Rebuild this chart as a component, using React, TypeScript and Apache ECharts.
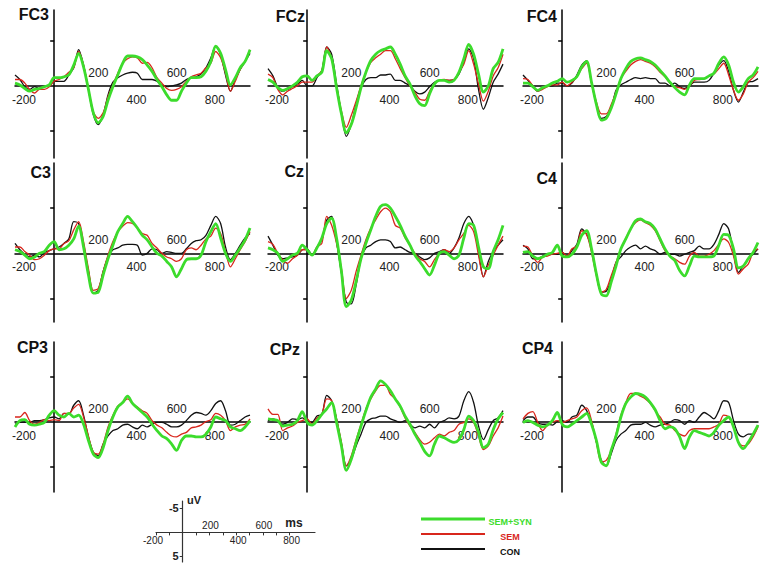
import React, { useEffect, useRef } from "react";
import * as echarts from "echarts";

// Sample times (ms)
const TIMES = [-200,-175,-150,-125,-100,-75,-50,-25,0,25,50,75,100,125,150,175,200,225,250,275,300,325,350,375,400,425,450,475,500,525,550,575,600,625,650,675,700,725,750,775,800,825,850,875,900,925,950,975,1000];

const PANELS = ["FC3", "FCz", "FC4", "C3", "Cz", "C4", "CP3", "CPz", "CP4"];
const SERIES_NAMES = ["SEM+SYN", "SEM", "CON"];

// Amplitudes (uV), negative plotted upward
const FC3_SEMSYN = [-0.3,-0.1,0.3,0.6,0.4,0.3,0.1,-0.1,-0.9,-0.9,-1.0,-1.2,-2.3,-3.6,-2.1,0.4,3.0,4.1,3.4,1.6,0.1,-1.2,-2.5,-3.3,-3.3,-3.2,-2.9,-2.3,-1.6,-0.7,0.1,1.0,1.6,1.6,0.6,-0.3,-0.9,-0.9,-1.0,-1.6,-2.7,-4.4,-3.6,-1.8,-0.1,-0.9,-2.0,-2.7,-4.0];
const FC3_SEM = [-0.7,-0.7,-0.3,0.4,0.8,0.4,0.4,0.1,-0.5,-0.7,-1.0,-1.5,-2.0,-3.8,-2.3,0.3,2.9,3.6,3.0,1.2,-0.1,-1.4,-2.5,-3.0,-3.2,-3.1,-2.5,-2.6,-2.0,-0.9,-0.3,0.3,0.5,0.4,0.1,-0.5,-1.0,-1.2,-1.4,-2.0,-2.5,-3.8,-3.1,-1.4,0.6,-0.5,-1.8,-2.7,-4.0];
const FC3_CON = [-1.2,-0.7,0.1,0.4,0.1,0.3,0.1,0,-0.5,-0.5,-0.5,-1.2,-2.0,-4.0,-2.3,0.4,3.2,4.3,3.2,1.0,-0.4,-0.9,-1.2,-1.4,-1.5,-1.4,-0.7,-0.7,-0.7,-0.5,-0.1,0.1,0,-0.1,-0.3,-0.7,-0.9,-1.0,-1.3,-2.0,-3.1,-4.4,-3.4,-1.2,0.6,-0.7,-1.8,-2.7,-3.6];

const FCZ_SEMSYN = [-0.7,-0.4,0.2,0.5,0.3,0,-0.4,-1.0,-1.1,-0.6,-1.1,-1.5,-3.9,-3.0,0.2,3.1,5.2,4.3,2.4,0.2,-1.5,-2.8,-3.5,-3.9,-4.1,-4.3,-3.5,-2.4,-1.1,-0.2,1.1,2.0,2.2,0.9,-0.2,-0.6,-0.6,-0.4,-0.6,-1.5,-3.0,-4.6,-3.5,-1.3,0.7,0,-1.9,-2.6,-4.1];
const FCZ_SEM = [-1.3,-0.9,0.4,1.0,0.6,0.3,0,-0.4,-0.4,-0.4,-1.1,-1.7,-4.3,-3.0,0,2.8,4.6,3.3,1.7,0,-1.5,-2.6,-3.1,-3.5,-3.9,-3.9,-3.0,-1.9,-0.9,0,0.7,1.5,1.6,0.6,-0.2,-0.6,-0.7,-0.6,-0.7,-1.5,-2.4,-3.9,-2.4,-0.2,1.7,0.6,-1.1,-2.0,-3.5];
const FCZ_CON = [-1.9,-1.1,0.2,0.6,0.4,0.1,-0.2,-0.6,0,0,-0.9,-1.7,-4.3,-3.5,-0.2,3.1,5.6,4.3,2.0,0.2,-0.7,-0.9,-0.9,-1.2,-1.2,-1.3,-0.6,-0.6,-0.3,0,0.6,0.9,0.7,0.1,-0.4,-0.6,-0.6,-0.6,-0.7,-1.3,-2.6,-4.1,-3.0,0.4,2.6,1.3,-0.4,-1.3,-2.4];

const FC4_SEMSYN = [-0.3,-0.3,0.1,0.5,0.2,0,-0.3,-0.5,-0.8,-0.4,-0.6,-1.0,-2.1,-2.7,-0.4,2.1,3.8,3.6,2.5,0.9,-0.8,-1.9,-2.7,-3.0,-3.1,-2.9,-2.7,-2.3,-1.7,-1.1,-0.4,0.2,0.7,1.0,-0.1,-0.8,-0.8,-0.8,-1.1,-1.4,-2.5,-3.2,-2.3,-0.4,0.7,0.1,-0.8,-1.2,-2.1];
const FC4_SEM = [-0.8,-0.7,0,0.6,0.4,0.1,-0.1,-0.1,-0.4,0,-0.4,-1.0,-1.9,-2.5,-0.3,1.8,3.1,3.1,2.1,0.7,-0.8,-1.6,-2.3,-2.7,-2.9,-2.7,-2.5,-2.1,-1.5,-1.0,-0.3,0.1,0.2,0.4,0,-0.6,-0.7,-0.8,-1.1,-1.3,-1.9,-2.5,-1.2,0.5,1.6,0.9,-0.4,-0.9,-1.6];
const FC4_CON = [-1.2,-0.6,0,0.6,0.3,0,0,-0.3,-0.3,0,-0.3,-1.2,-2.3,-2.8,-0.3,2.1,3.6,3.4,2.5,0.5,-0.1,-0.4,-0.7,-0.9,-0.8,-0.9,-0.8,-0.8,-0.3,-0.3,0,-0.3,0.1,0.3,0,-0.4,-0.4,-0.4,-0.6,-1.4,-2.3,-2.8,-1.6,0.5,1.8,0.7,-0.4,-0.5,-0.8];

const C3_SEMSYN = [-0.4,-0.2,0.2,0.6,0.4,0,-0.2,-0.9,-1.3,-0.4,-0.5,-0.9,-1.6,-3.0,-0.7,2.4,4.4,4.3,2.4,0.6,-0.9,-2.4,-3.3,-4.1,-3.5,-2.8,-2.0,-1.5,-0.7,0,0.3,0.9,1.5,2.6,1.7,0.7,0.6,0.6,0.2,-1.3,-2.4,-3.3,-1.7,0,0.9,0.2,-0.6,-1.5,-2.8];
const C3_SEM = [-0.7,-0.7,-0.2,0.2,0.7,0.6,0.2,-0.3,-0.5,-0.5,-1.1,-1.4,-2.6,-3.5,-1.3,1.7,4.1,3.9,2.0,0.2,-1.3,-2.4,-3.0,-3.4,-3.3,-2.8,-2.2,-2.0,-1.1,-0.6,0,0.4,0.6,0.9,0.6,-0.4,-0.6,-0.4,-0.9,-1.6,-1.9,-2.8,-2.2,-0.2,1.5,0.6,-0.4,-1.3,-2.4];
const C3_CON = [-1.1,-0.4,0.1,0.4,0.2,0.4,-0.1,-0.3,-0.5,-0.7,-1.1,-1.6,-3.5,-3.3,-0.9,2.0,4.4,4.1,2.0,0.4,-0.4,-0.6,-0.9,-1.0,-1.0,-0.9,0.2,0,-0.5,-0.4,0,-0.2,-0.1,0,0,-0.5,-1.1,-1.4,-1.5,-2.0,-3.1,-4.1,-3.3,-0.7,0.7,0,-0.9,-1.7,-2.2];

const CZ_SEMSYN = [-0.6,-0.4,0,0.9,0.6,0.2,0,-0.9,-0.4,0.2,-0.6,-1.7,-3.3,-3.9,-1.7,2.0,5.9,5.2,3.1,0.6,-1.1,-2.6,-4.1,-5.2,-5.4,-5.0,-4.1,-3.1,-1.9,-0.9,0.2,0.9,1.7,2.4,1.3,0,-0.2,0.2,0.6,0.2,-1.7,-3.3,-3.1,-0.7,1.5,1.7,-0.2,-1.5,-3.1];
const CZ_SEM = [-1.3,-1.0,0,0.7,1.1,0.6,0.2,-0.4,-0.4,0.2,-0.7,-1.1,-4.1,-3.1,-1.1,1.7,5.0,4.1,2.0,0.2,-1.5,-2.8,-3.7,-4.6,-5.0,-4.6,-3.1,-2.8,-1.7,-0.9,0,0.6,0.9,1.5,0.7,0,-0.4,-0.2,-0.6,-1.5,-2.2,-3.1,-2.4,0.2,2.6,1.3,0.2,-0.9,-1.9];
const CZ_CON = [-1.9,-0.9,0.2,0.6,0.5,0.4,0.2,-0.4,-0.5,0.2,-0.7,-1.5,-3.7,-4.1,-1.3,2.2,5.4,5.6,3.5,0.6,-0.6,-0.9,-1.3,-1.5,-1.5,-1.3,-0.6,-0.7,-0.4,-0.1,0,0.4,0.7,0.5,0,-0.2,-0.4,0,-0.6,-1.7,-3.3,-4.1,-3.1,-0.2,2.6,0.9,-0.2,-0.9,-1.5];

const C4_SEMSYN = [-0.1,-0.2,0.3,0.6,0.4,0.1,-0.1,-0.9,0.3,0.4,0.1,-0.7,-2.0,-2.5,-0.5,2.3,4.5,4.7,3.2,1.4,-0.5,-1.6,-2.7,-3.6,-3.8,-3.5,-3.3,-2.7,-1.6,-0.5,0.3,0.8,1.9,2.5,1.4,0.3,0.4,0.4,0.4,0.3,-0.9,-2.1,-2.0,-0.5,1.6,1.4,0.6,-0.1,-1.2];
const C4_SEM = [-0.8,-0.7,0.3,1.0,0.4,0.3,0.1,0,-0.1,0.3,-0.5,-0.8,-2.5,-2.1,-0.1,2.5,4.3,4.0,2.5,1.0,-0.5,-1.7,-2.7,-3.4,-3.7,-3.4,-3.1,-2.5,-1.4,-0.3,0.3,0.6,1.0,1.2,0.3,-0.1,0.3,0.3,0.1,-0.3,-1.0,-1.6,-1.2,0.3,2.3,1.7,1.2,-0.1,-0.5];
const C4_CON = [-0.9,-0.5,0.6,0.6,0.3,0.1,0,0.1,-0.1,0.3,-0.3,-1.0,-2.7,-2.1,-0.5,2.3,4.3,4.2,2.9,1.0,0.4,-0.3,-0.7,-0.9,-0.5,-0.8,-0.5,-0.3,0.1,-0.1,0.1,0.1,0.3,0.1,-0.1,-0.3,-0.8,-0.5,-0.5,-1.0,-2.1,-3.3,-2.7,-0.1,2.1,1.4,0.6,0.1,-0.5];

const CP3_SEMSYN = [0.6,-0.1,-0.2,0.3,0.4,0.3,0.1,-0.7,-1.2,-0.7,-0.5,-0.9,-0.5,-0.7,0.3,2.1,3.6,4.0,2.9,1.0,-0.5,-1.6,-2.1,-2.8,-2.0,-1.5,-1.0,-0.5,0.3,1.0,1.6,1.9,2.5,3.2,2.1,1.6,1.6,1.7,1.7,1.4,0.6,-0.5,-0.3,-0.1,0.6,0.8,1.0,0.6,-0.1];
const CP3_SEM = [-0.5,-0.5,-1.0,-0.1,0.3,0.1,-0.2,-0.1,-0.2,-0.1,-0.9,-0.9,-1.5,-1.9,-0.5,1.6,3.4,3.6,2.5,0.6,-0.7,-1.7,-2.1,-2.5,-2.0,-1.6,-1.2,-0.9,-0.1,0.4,0.7,1.2,1.6,1.7,1.4,1.2,0.7,0.6,0.4,0,-0.2,-0.9,-0.7,-0.1,1.0,0.6,0.4,0.3,-0.3];
const CP3_CON = [0.3,0.1,0.1,0.1,-0.1,-0.1,-0.2,-0.4,-0.5,-0.3,-0.9,-0.8,-1.8,-2.3,-0.7,1.7,3.4,3.8,2.5,1.6,1.0,0.8,0.4,0.3,0.6,0.8,0.4,0.6,0.3,0.1,0.1,0.3,0.6,0.6,0.4,-0.1,-0.7,-1.0,-0.9,-0.7,-1.2,-2.0,-2.3,-1.2,0.4,0.3,-0.1,-0.5,-0.7];

const CPZ_SEMSYN = [-0.3,-0.2,-0.1,0.5,0.4,0.3,-0.1,-1.1,0.1,0.4,-0.1,-0.8,-1.4,-2.1,0.1,2.7,5.4,4.2,2.3,0.5,-1.2,-2.7,-3.6,-4.5,-4.1,-3.4,-2.5,-1.7,-0.6,0.3,1.4,2.3,3.3,3.8,2.5,1.6,1.8,2.1,2.3,2.0,0.9,-0.6,-0.1,1.2,2.9,2.5,0.9,-0.3,-1.0];
const CPZ_SEM = [-1.4,-0.8,-0.8,1.0,0.7,0.5,0.1,-0.1,-0.3,0.3,-0.4,-0.8,-2.5,-2.3,-0.3,2.3,4.9,3.8,2.0,0.3,-1.4,-2.5,-3.4,-4.0,-4.0,-3.0,-2.5,-1.6,-0.4,0.5,1.2,2.0,2.5,2.3,1.8,1.4,1.6,1.2,1.0,0.3,0.1,-0.3,0.1,1.6,3.1,2.7,1.6,0.7,-0.6];
const CPZ_CON = [-0.1,-0.3,-0.1,0.3,0.1,-0.3,-0.2,-0.4,-0.1,0.1,-0.6,-0.8,-2.9,-2.3,-0.3,2.5,4.9,4.2,2.7,1.4,0.1,-0.3,-0.4,-0.6,-0.6,-0.3,-0.1,0.1,-0.1,0.3,0.7,0.5,0.7,0.3,0.7,0.1,-0.1,-0.4,-0.3,-0.6,-2.3,-3.3,-2.1,0.5,2.0,0.9,-0.1,-0.4,-1.2];

const CP4_SEMSYN = [0.1,-0.1,0.1,0.4,0.6,0.4,-0.1,-1.0,0.3,0.6,0.3,-0.1,-0.5,-0.9,0.3,2.1,4.5,4.9,3.2,1.6,-0.5,-2.0,-2.7,-3.1,-3.0,-2.7,-2.1,-1.3,-0.1,0.8,0.6,0.8,1.7,3.0,1.7,1.0,1.2,1.4,1.6,1.2,0.4,-0.1,-0.5,0.6,2.3,3.0,2.3,1.4,0.4];
const CP4_SEM = [-0.3,-0.9,-1.1,0.1,1.0,0.4,0.1,-0.1,0.1,-0.1,-0.3,-0.5,-1.2,-1.5,-0.1,2.3,4.5,4.3,3.2,1.4,-0.7,-2.1,-3.1,-3.1,-2.8,-2.5,-2.0,-1.2,-0.5,0.3,0.4,1.0,1.4,1.6,1.0,0.8,0.8,0.8,0.8,0.6,0.3,-0.7,-0.5,0.6,2.3,2.7,2.5,1.7,0.6];
const CP4_CON = [-0.1,-0.5,-0.5,0.1,0.3,0.3,0.4,0,-0.1,0.1,-0.5,-0.7,-1.8,-1.2,0.1,2.3,4.3,4.9,3.6,2.1,1.4,1.0,0.4,0.3,0.3,0.1,0.4,0.6,0.4,0.3,0.1,-0.2,-0.1,0.3,-0.1,0.1,-0.5,-1.0,-0.7,-0.3,-1.2,-2.3,-2.1,-0.1,1.4,1.7,1.4,1.4,0.4];

const PANEL_DATA = [
  [FC3_SEMSYN, FC3_SEM, FC3_CON],
  [FCZ_SEMSYN, FCZ_SEM, FCZ_CON],
  [FC4_SEMSYN, FC4_SEM, FC4_CON],
  [C3_SEMSYN, C3_SEM, C3_CON],
  [CZ_SEMSYN, CZ_SEM, CZ_CON],
  [C4_SEMSYN, C4_SEM, C4_CON],
  [CP3_SEMSYN, CP3_SEM, CP3_CON],
  [CPZ_SEMSYN, CPZ_SEM, CPZ_CON],
  [CP4_SEMSYN, CP4_SEM, CP4_CON],
];

// Tick labels
const X_LABELS_BELOW = [-200, 400, 800];
const X_LABELS_ABOVE = [200, 600];
const Y_TICKS = [-5, 5];
const SCALE_X_TICKS = [-200, -100, 100, 200, 300, 400, 500, 600, 700, 800];
const SCALE_Y_LABELS = [-5, 5];

// Layout (styling only)
const FONT = '"Liberation Sans", Arial, sans-serif';
const COLORS = ["#3cdc2c", "#d8261c", "#111111"];
const WIDTHS = [2.8, 1.3, 1.3];
const COL_LEFT = [15, 268, 523];
const PANEL_W = 235;
const ROWS = [
  { top: 10, h: 148, min: -8.4, max: 8.0 },
  { top: 163, h: 159, min: -10, max: 7.6 },
  { top: 342, h: 150, min: -8.8, max: 7.8 },
];
const TITLE_POS = [[49, 14], [305, 16], [557, 16], [51, 172], [304, 171], [557, 178], [48, 347], [300, 349], [553, 348]];
const SCALE_GRID = 9;

function buildOption() {
  const grid: any[] = [];
  const xAxis: any[] = [];
  const yAxis: any[] = [];
  const series: any[] = [];
  const graphic: any[] = [];

  PANELS.forEach((name, i) => {
    const row = ROWS[Math.floor(i / 3)];
    const col = i % 3;
    grid.push({ left: COL_LEFT[col], top: row.top, width: PANEL_W, height: row.h });
    xAxis.push({
      type: "value", gridIndex: i, min: -200, max: 1000,
      axisLine: { onZero: true, onZeroAxisIndex: i, lineStyle: { color: "#000", width: 1.5 } },
      axisTick: { show: false }, splitLine: { show: false }, axisLabel: { show: false },
    });
    yAxis.push({
      type: "value", gridIndex: i, inverse: true, min: row.min, max: row.max,
      axisLine: { onZero: true, onZeroAxisIndex: i, lineStyle: { color: "#000", width: 1.5 } },
      axisTick: { show: true, customValues: Y_TICKS, length: 4, lineStyle: { color: "#000", width: 1.5 } },
      axisLabel: { show: false }, splitLine: { show: false },
    });
    [2, 1, 0].forEach((s) => {
      series.push({
        type: "line", name: SERIES_NAMES[s], xAxisIndex: i, yAxisIndex: i,
        data: TIMES.map((t, k) => [t, PANEL_DATA[i][s][k]]),
        showSymbol: false, symbol: "none", smooth: 0.3,
        lineStyle: { color: COLORS[s], width: WIDTHS[s] },
        z: 3 + (2 - s),
      });
    });
    graphic.push({
      type: "text", x: TITLE_POS[i][0], y: TITLE_POS[i][1],
      style: { text: name, fontSize: 16, fontWeight: "bold", fontFamily: FONT, fill: "#111", align: "right", verticalAlign: "middle" },
    });
  });

  // Scale legend axes
  grid.push({ left: 156, top: 501, width: 159, height: 61 });
  xAxis.push({
    type: "value", gridIndex: SCALE_GRID, min: -200, max: 990,
    axisLine: { onZero: true, onZeroAxisIndex: SCALE_GRID, lineStyle: { color: "#333", width: 1.2 } },
    axisTick: { show: true, customValues: SCALE_X_TICKS, length: 3, lineStyle: { color: "#333" } },
    splitLine: { show: false }, axisLabel: { show: false },
  });
  // same scale, ticks pointing up so they cross the line
  xAxis.push({
    type: "value", gridIndex: SCALE_GRID, min: -200, max: 990,
    axisLine: { show: false, onZero: true, onZeroAxisIndex: SCALE_GRID },
    axisTick: { show: true, inside: true, customValues: SCALE_X_TICKS, length: 3, lineStyle: { color: "#333" } },
    splitLine: { show: false }, axisLabel: { show: false },
  });
  yAxis.push({
    type: "value", gridIndex: SCALE_GRID, inverse: true, min: -6.5, max: 6.2,
    axisLine: { onZero: true, onZeroAxisIndex: SCALE_GRID, lineStyle: { color: "#333", width: 1.2 } },
    axisTick: { show: true, customValues: SCALE_Y_LABELS, length: 3, lineStyle: { color: "#333" } },
    splitLine: { show: false }, axisLabel: { show: false },
  });
  graphic.push({ type: "text", x: 187, y: 500, style: { text: "uV", fontSize: 11, fontWeight: "bold", fontFamily: FONT, fill: "#222", align: "left", verticalAlign: "middle" } });
  graphic.push({ type: "text", x: 294, y: 523, style: { text: "ms", fontSize: 12, fontWeight: "bold", fontFamily: FONT, fill: "#222", align: "center", verticalAlign: "middle" } });

  // Legend
  const legendY = [519, 534, 549];
  const legendW = [3, 2, 2];
  SERIES_NAMES.forEach((n, s) => {
    graphic.push({ type: "line", shape: { x1: 421, y1: legendY[s], x2: 485, y2: legendY[s] }, style: { stroke: COLORS[s], lineWidth: legendW[s] } });
    graphic.push({ type: "text", x: 510, y: legendY[s] + 3, style: { text: n, fontSize: 9, fontWeight: "bold", fontFamily: FONT, fill: COLORS[s], align: "center", verticalAlign: "middle" } });
  });

  return { animation: false, backgroundColor: "#fff", grid, xAxis, yAxis, series, graphic };
}

// Tick labels placed at the axis scale positions (labels sit beside the zero line)
function tickLabelGraphics(chart: any) {
  const out: any[] = [];
  const txt = (x: number, y: number, text: string, size: number, bold: boolean, align: string) => ({
    type: "text", x, y,
    style: { text, fontSize: size, fontWeight: bold ? "bold" : "normal", fontFamily: FONT, fill: "#222", align, verticalAlign: "middle" },
  });
  PANELS.forEach((_, i) => {
    const finder = { xAxisIndex: i, yAxisIndex: i };
    X_LABELS_BELOW.forEach((v) => {
      const p = chart.convertToPixel(finder, [v, 0]);
      out.push(txt(p[0] + (v < 0 ? 9 : 4), p[1] + 14, String(v), 12, false, "center"));
    });
    X_LABELS_ABOVE.forEach((v) => {
      const p = chart.convertToPixel(finder, [v, 0]);
      out.push(txt(p[0] + 5, p[1] - 13, String(v), 12, false, "center"));
    });
  });
  const sf = { xAxisIndex: SCALE_GRID, yAxisIndex: SCALE_GRID };
  X_LABELS_BELOW.forEach((v) => {
    const p = chart.convertToPixel(sf, [v, 0]);
    out.push(txt(p[0] + (v < 0 ? -3 : 2), p[1] + 8, String(v), 10, false, "center"));
  });
  X_LABELS_ABOVE.forEach((v) => {
    const p = chart.convertToPixel(sf, [v, 0]);
    out.push(txt(p[0] + 1, p[1] - 7, String(v), 10, false, "center"));
  });
  SCALE_Y_LABELS.forEach((v) => {
    const p = chart.convertToPixel(sf, [0, v]);
    out.push(txt(p[0] - 4, p[1], String(v), 11, true, "right"));
  });
  return out;
}

export default function App() {
  const ref = useRef<HTMLDivElement>(null);
  useEffect(() => {
    document.body.style.margin = "0";
    const chart = echarts.init(ref.current as HTMLDivElement, null, { renderer: "svg" });
    const option: any = buildOption();
    chart.setOption(option);
    const labels = tickLabelGraphics(chart);
    chart.setOption({ graphic: [...option.graphic, ...labels] });
    return () => chart.dispose();
  }, []);
  return <div ref={ref} style={{ width: 768, height: 569, background: "#fff" }} />;
}
